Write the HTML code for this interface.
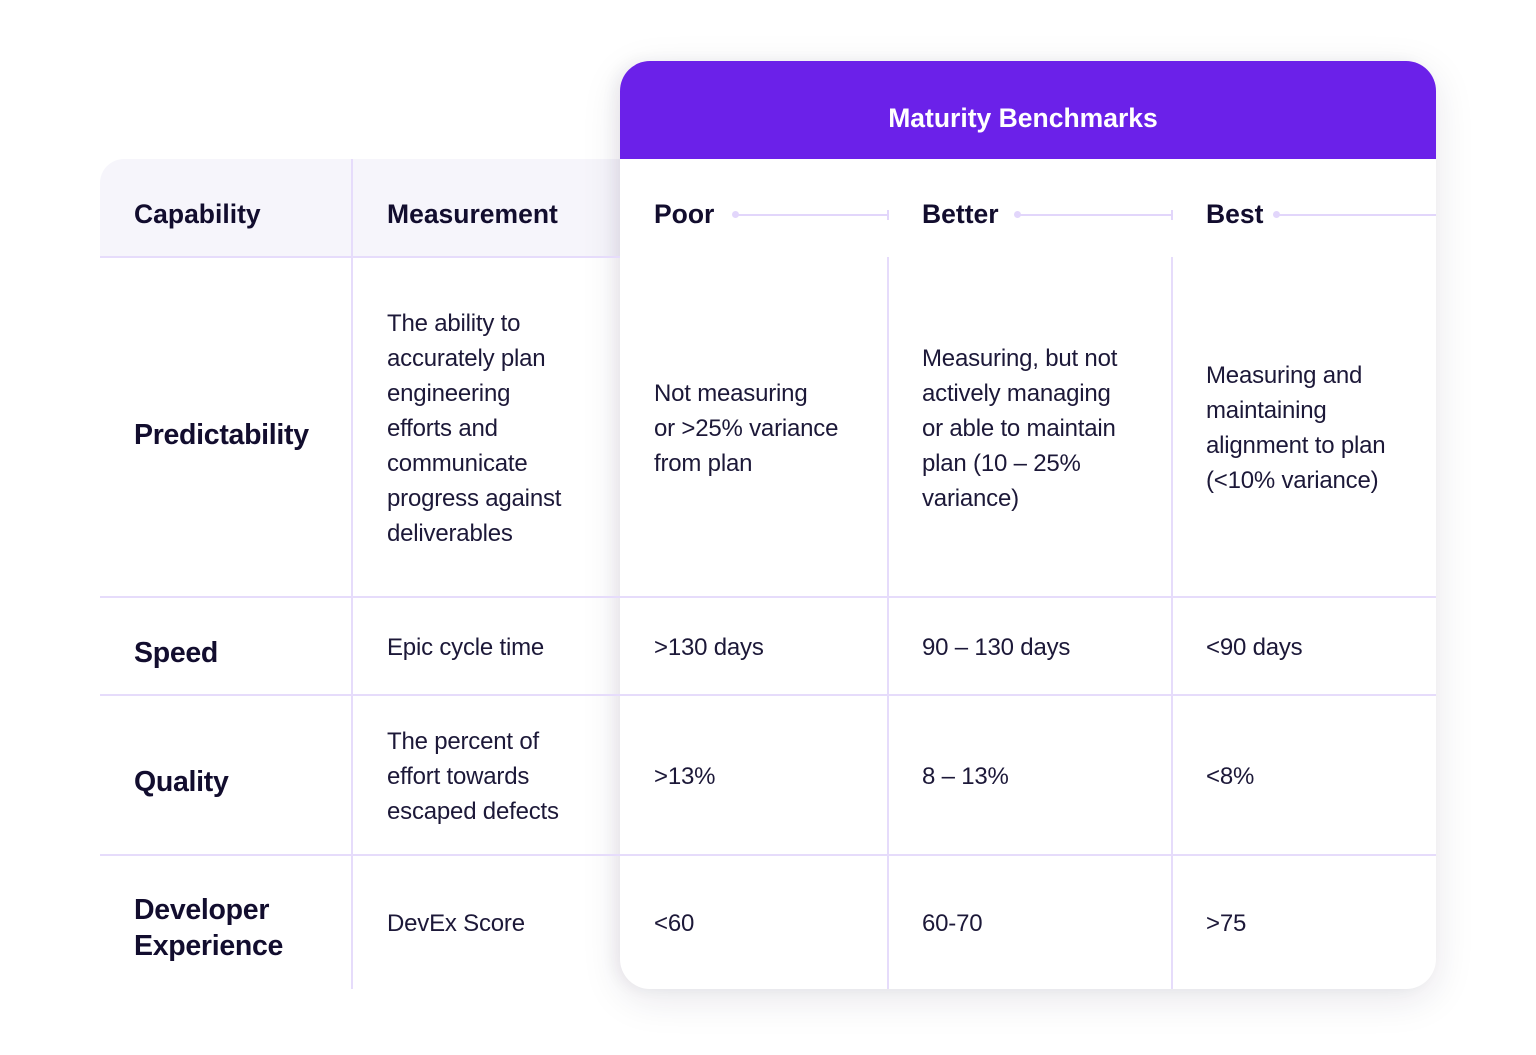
<!DOCTYPE html>
<html><head><meta charset="utf-8"><style>
*{margin:0;padding:0;box-sizing:border-box}
body{width:1536px;height:1055px;background:#fff;position:relative;overflow:hidden;font-family:"Liberation Sans",sans-serif;color:#140f2e}
.a{position:absolute}
.hl{position:absolute;height:2px;background:#e6dcfb}
.vl{position:absolute;width:2px;background:#e6dcfb}
.c{position:absolute;display:flex;align-items:center;font-size:24px;line-height:35px;color:#1c1838;letter-spacing:-0.2px}
.b{font-weight:bold;font-size:28.5px;line-height:36px;color:#120d2e;letter-spacing:-0.3px}
.h{position:absolute;font-weight:bold;font-size:26.5px;color:#120d2e;top:199px}
.dot{position:absolute;width:7px;height:7px;border-radius:50%;background:#e2d6fb;top:211px}
.ln{position:absolute;height:2px;background:#e2d6fb;top:214px}
.tk{position:absolute;width:2px;height:10px;background:#e2d6fb;top:210px}
</style></head><body>
<div class="a" style="left:100px;top:159px;width:540px;height:98px;background:#f6f5fb;border-top-left-radius:24px"></div>
<div class="a" style="left:620px;top:61px;width:816px;height:928px;background:#fff;border-radius:30px;box-shadow:0 10px 40px rgba(30,20,60,0.10),-6px 0 14px rgba(30,20,60,0.05)"></div>
<div class="a" style="left:620px;top:61px;width:816px;height:98px;background:#6b21e9;border-radius:30px 30px 0 0;color:#fff;font-weight:bold;font-size:26.5px;text-align:center;line-height:114px;padding-right:10px">Maturity Benchmarks</div>

<div class="hl" style="left:100px;top:256px;width:520px"></div>
<div class="hl" style="left:100px;top:596px;width:1336px"></div>
<div class="hl" style="left:100px;top:694px;width:1336px"></div>
<div class="hl" style="left:100px;top:854px;width:1336px"></div>
<div class="vl" style="left:351px;top:159px;height:830px"></div>
<div class="vl" style="left:887px;top:257px;height:732px"></div>
<div class="vl" style="left:1171px;top:257px;height:732px"></div>

<div class="h" style="left:134px">Capability</div>
<div class="h" style="left:387px">Measurement</div>
<div class="h" style="left:654px">Poor</div>
<div class="h" style="left:922px">Better</div>
<div class="h" style="left:1206px">Best</div>
<div class="dot" style="left:732px"></div><div class="ln" style="left:736px;width:152px"></div><div class="tk" style="left:887px"></div>
<div class="dot" style="left:1014px"></div><div class="ln" style="left:1018px;width:154px"></div><div class="tk" style="left:1171px"></div>
<div class="dot" style="left:1273px"></div><div class="ln" style="left:1277px;width:159px"></div>

<!-- row 1 -->
<div class="c b" style="left:134px;top:265px;height:340px">Predictability</div>
<div class="c" style="left:387px;top:258px;height:340px">The ability to<br>accurately plan<br>engineering<br>efforts and<br>communicate<br>progress against<br>deliverables</div>
<div class="c" style="left:654px;top:258px;height:340px">Not measuring<br>or &gt;25% variance<br>from plan</div>
<div class="c" style="left:922px;top:258px;height:340px">Measuring, but not<br>actively managing<br>or able to maintain<br>plan (10 – 25%<br>variance)</div>
<div class="c" style="left:1206px;top:258px;height:340px">Measuring and<br>maintaining<br>alignment to plan<br>(&lt;10% variance)</div>
<!-- row 2 -->
<div class="c b" style="left:134px;top:604px;height:98px">Speed</div>
<div class="c" style="left:387px;top:598px;height:98px">Epic cycle time</div>
<div class="c" style="left:654px;top:598px;height:98px">&gt;130 days</div>
<div class="c" style="left:922px;top:598px;height:98px">90 – 130 days</div>
<div class="c" style="left:1206px;top:598px;height:98px">&lt;90 days</div>
<!-- row 3 -->
<div class="c b" style="left:134px;top:702px;height:160px">Quality</div>
<div class="c" style="left:387px;top:696px;height:160px">The percent of<br>effort towards<br>escaped defects</div>
<div class="c" style="left:654px;top:696px;height:160px">&gt;13%</div>
<div class="c" style="left:922px;top:696px;height:160px">8 – 13%</div>
<div class="c" style="left:1206px;top:696px;height:160px">&lt;8%</div>
<!-- row 4 -->
<div class="c b" style="left:134px;top:861px;height:134px">Developer<br>Experience</div>
<div class="c" style="left:387px;top:856px;height:134px">DevEx Score</div>
<div class="c" style="left:654px;top:856px;height:134px">&lt;60</div>
<div class="c" style="left:922px;top:856px;height:134px">60-70</div>
<div class="c" style="left:1206px;top:856px;height:134px">&gt;75</div>
</body></html>
